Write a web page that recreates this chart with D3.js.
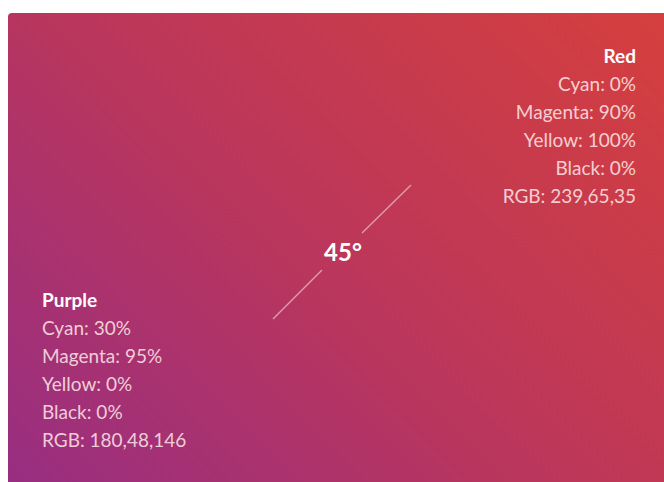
<!DOCTYPE html>
<html>
<head>
<meta charset="utf-8">
<script src="https://cdn.jsdelivr.net/npm/d3@7"></script>
<style>
  body { margin: 0; background: #fff; }
  svg { display: block; }
</style>
</head>
<body>
<div id="chart"></div>
<script>
const W = 664, H = 482

// swatch names and their CMYK / RGB readouts
const names = ["Red", "Purple"]
const redLines = ["Cyan: 0%", "Magenta: 90%", "Yellow: 100%", "Black: 0%", "RGB: 239,65,35"]
const purpleLines = ["Cyan: 30%", "Magenta: 95%", "Yellow: 0%", "Black: 0%", "RGB: 180,48,146"]
const gradStops = ["#982e82", "#ba365c", "#dd4235"]
const gradOffsets = [0, 0.4, 1]
const angleLabel = "45°"

const svg = d3.select("#chart").append("svg")
  .attr("width", W)
  .attr("height", H)

const defs = svg.append("defs")
const grad = defs.append("linearGradient")
  .attr("id", "g45")
  .attr("gradientUnits", "userSpaceOnUse")
  .attr("x1", 8).attr("y1", 482)
  .attr("x2", 664).attr("y2", 13 - 180)

grad.selectAll("stop")
  .data(gradStops)
  .enter().append("stop")
    .attr("offset", (d, i) => gradOffsets[i] * 100 + "%")
    .attr("stop-color", d => d)

// the card
svg.append("rect")
  .attr("x", 8)
  .attr("y", 13)
  .attr("width", W)
  .attr("height", H)
  .attr("rx", 4)
  .attr("fill", "url(#g45)")

// 45 degree guide line
const diag = svg.append("g").attr("stroke", "rgba(255,255,255,0.5)").attr("stroke-width", 1.4)
diag.append("line").attr("x1", 273).attr("y1", 319).attr("x2", 322).attr("y2", 270)
diag.append("line").attr("x1", 362).attr("y1", 233).attr("x2", 411).attr("y2", 185)

svg.append("text")
  .attr("x", 343)
  .attr("y", 261)
  .attr("text-anchor", "middle")
  .style("font-family", "Lato, sans-serif")
  .style("font-weight", "bold")
  .style("font-size", "24px")
  .attr("fill", "#fff")
  .text(angleLabel)

function swatch(x, y, anchor, title, lines) {
  const g = svg.append("g")
    .style("font-family", "Lato, sans-serif")
    .attr("text-anchor", anchor)
  g.append("text")
    .attr("x", x).attr("y", y)
    .style("font-weight", "bold")
    .style("font-size", "19px")
    .attr("fill", "#fff")
    .text(title)
  const ly = d3.scaleLinear().domain([0, 1]).range([y + 28, y + 56])
  g.selectAll("text.l")
    .data(lines)
    .enter().append("text")
      .attr("class", "l")
      .attr("x", x)
      .attr("y", (d, i) => ly(i))
      .style("font-size", "19px")
      .attr("fill", "rgba(255,232,232,0.86)")
      .text(d => d)
}

swatch(636, 63, "end", names[0], redLines)
swatch(42, 307, "start", names[1], purpleLines)
</script>
</body>
</html>
